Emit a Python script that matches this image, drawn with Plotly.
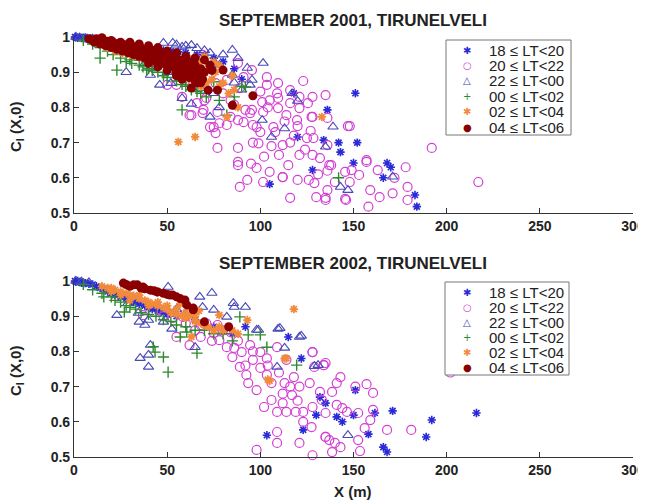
import plotly.graph_objects as go

# ---- data: (X in m, C_I) pairs ----
labels = ["18 ≤ LT<20", "20 ≤ LT<22", "22 ≤ LT<00", "00 ≤ LT<02", "02 ≤ LT<04", "04 ≤ LT<06"]
titles = ["SEPTEMBER 2001, TIRUNELVELI", "SEPTEMBER 2002, TIRUNELVELI"]
x_ticks = [0, 50, 100, 150, 200, 250, 300]
y_ticks = [0.5, 0.6, 0.7, 0.8, 0.9, 1.0]

top_1820 = [(0.5, 1.0), (1, 0.999), (2, 0.998), (3, 0.999), (4, 0.997), (5, 0.998), (6, 0.996),
            (7, 0.997), (8, 0.994), (9, 0.996), (10, 0.993), (12, 0.99), (14, 0.988), (17, 0.985),
            (20, 0.98), (24, 0.978), (28, 0.975), (32, 0.972), (36, 0.97), (40, 0.968), (44, 0.965),
            (48, 0.962), (52, 0.96), (56, 0.958), (60, 0.955), (66, 0.95), (70, 0.948), (75, 0.94),
            (80, 0.93), (86, 0.91), (90, 0.88), (105, 0.582), (118, 0.84), (120, 0.716), (128, 0.622),
            (134, 0.707), (136, 0.793), (142, 0.70), (143, 0.673), (150, 0.642), (151, 0.84),
            (152, 0.70), (166, 0.60), (168, 0.642), (170, 0.63), (183, 0.551), (184, 0.518)]

top_2022 = [(88, 0.926), (123, 0.875), (95.5, 0.906), (103.5, 0.864), (109.5, 0.869), (109, 0.84),
            (116, 0.812), (105, 0.82), (101, 0.815), (95.5, 0.793), (101.5, 0.787), (109.5, 0.798),
            (121, 0.798), (125.5, 0.812), (128, 0.83), (127.5, 0.773), (119.7, 0.764), (114, 0.778),
            (107, 0.744), (98, 0.744), (88, 0.764), (92, 0.793), (86, 0.807), (82, 0.75), (77, 0.787),
            (75, 0.744), (69, 0.784), (66, 0.812), (71, 0.827), (89, 0.855), (91, 0.886), (82, 0.878),
            (76, 0.869), (69, 0.949), (74, 0.912), (66, 0.886), (109.5, 0.827), (116, 0.849),
            (103.5, 0.886), (121, 0.83), (63, 0.778), (69.5, 0.793), (58, 0.83), (50, 0.864),
            (55, 0.864), (70, 0.82), (73, 0.744), (76, 0.727), (77, 0.685), (88, 0.685), (88, 0.645),
            (88, 0.636), (93, 0.594), (89, 0.574), (98, 0.628), (96, 0.70), (99, 0.698), (101.5, 0.588),
            (105, 0.617), (110, 0.665), (112, 0.602), (112, 0.693), (108, 0.73), (100, 0.73), (96, 0.75),
            (91, 0.758), (84, 0.773), (78, 0.755), (62, 0.778), (94.5, 0.784), (147, 0.747),
            (128, 0.773), (120, 0.747), (127, 0.733), (116, 0.70), (125, 0.713), (128.5, 0.713),
            (136, 0.693), (121, 0.665), (128, 0.665), (132, 0.656), (137, 0.636), (115, 0.636),
            (112, 0.602), (120, 0.594), (126, 0.594), (129, 0.585), (136, 0.565), (116, 0.543),
            (130, 0.545), (135, 0.543), (145.5, 0.54), (158, 0.518), (157, 0.65), (163, 0.622),
            (153, 0.608), (148, 0.588), (159, 0.565), (164, 0.545), (171, 0.556), (178, 0.63),
            (179, 0.574), (179, 0.537), (172, 0.60), (135, 0.835), (136, 0.77), (148, 0.747),
            (192, 0.685), (217, 0.588), (157, 0.645), (146, 0.537), (136, 0.62), (138, 0.636),
            (145.5, 0.617), (149, 0.622), (140, 0.588), (135, 0.537), (60, 0.9), (64, 0.87),
            (80, 0.84), (84, 0.82), (100, 0.845), (104, 0.8), (113, 0.76), (118, 0.72), (106, 0.69),
            (102, 0.66), (95, 0.64), (124, 0.68), (131, 0.61)]

top_2200 = [(1, 1.0), (3, 0.998), (6, 0.997), (10, 0.995), (48, 0.983), (53, 0.983), (55, 0.978),
            (58, 0.972), (60, 0.975), (63, 0.977), (66, 0.968), (70, 0.962), (73, 0.955), (78, 0.92),
            (80, 0.95), (85, 0.963), (85, 0.892), (88, 0.94), (93, 0.912), (95.5, 0.878), (94.5, 0.864),
            (101.5, 0.926), (28, 0.90), (41, 0.892), (46, 0.864), (52, 0.869), (58, 0.826), (63, 0.81),
            (68, 0.855), (73, 0.773), (78, 0.80), (101, 0.764), (106, 0.716), (113, 0.74), (117, 0.84),
            (120, 0.818), (135, 0.688), (139, 0.745), (143, 0.574), (147, 0.565), (171, 0.603),
            (35, 0.94), (38, 0.925), (44, 0.915), (50, 0.90), (56, 0.89), (62, 0.87), (70, 0.86),
            (75, 0.84), (90, 0.85), (86, 0.87)]

top_0002 = [(5, 0.99), (10, 0.98), (14, 0.97), (18, 0.96), (21, 0.95), (23, 0.906), (25, 0.94),
            (28, 0.93), (31, 0.925), (35, 0.92), (37, 0.915), (39, 0.906), (42, 0.905), (45, 0.90),
            (48, 0.89), (50, 0.885), (53, 0.906), (55, 0.875), (58, 0.865), (58, 0.793), (60, 0.86),
            (63, 0.85), (66, 0.845), (68, 0.84), (71, 0.83), (75, 0.873), (78, 0.82), (82, 0.778),
            (86, 0.83), (90, 0.86), (92, 0.858), (142, 0.60), (30, 0.935), (40, 0.91), (14, 0.94)]

top_0204 = [(18, 0.97), (22, 0.96), (26, 0.955), (30, 0.95), (33, 0.945), (36, 0.94), (40, 0.935),
            (44, 0.925), (47, 0.92), (50, 0.915), (53, 0.91), (56, 0.90), (59, 0.89), (62, 0.88),
            (65, 0.87), (68, 0.86), (71, 0.87), (74, 0.88), (76, 0.90), (78, 0.86), (80, 0.87),
            (83, 0.84), (86, 0.85), (88, 0.80), (82, 0.773), (56, 0.702), (65, 0.716), (133, 0.773),
            (70, 0.945), (75, 0.93), (72, 0.915), (64, 0.94), (58, 0.925), (52, 0.94), (46, 0.945),
            (38, 0.955), (28, 0.965), (67, 0.93), (78, 0.92), (85, 0.89)]

top_0406 = [(8, 0.995), (10, 0.99), (11, 0.985), (12, 0.995), (13, 0.988), (14, 0.98), (15, 0.992),
            (16, 0.983), (17, 0.975), (18, 0.988), (19, 0.978), (20, 0.97), (21, 0.985), (22, 0.975),
            (23, 0.965), (24, 0.982), (25, 0.97), (26, 0.96), (27, 0.978), (28, 0.968), (29, 0.955),
            (30, 0.975), (31, 0.962), (32, 0.95), (33, 0.972), (34, 0.958), (35, 0.945), (36, 0.968),
            (37, 0.955), (38, 0.94), (39, 0.965), (40, 0.95), (41, 0.935), (42, 0.96), (43, 0.945),
            (44, 0.93), (45, 0.955), (46, 0.94), (47, 0.925), (48, 0.95), (49, 0.935), (50, 0.92),
            (51, 0.945), (52, 0.93), (53, 0.915), (54, 0.94), (55, 0.925), (56, 0.905), (57, 0.935),
            (58, 0.915), (59, 0.895), (60, 0.925), (61, 0.905), (62, 0.885), (63, 0.915), (64, 0.895),
            (65, 0.875), (66, 0.91), (67, 0.89), (68, 0.87), (70, 0.90), (70, 0.935), (72, 0.849),
            (73, 0.92), (74, 0.905), (77, 0.849), (80, 0.906), (85, 0.806), (96, 0.833), (63, 0.855),
            (66, 0.87), (58, 0.88), (55, 0.90), (35, 0.96), (45, 0.945), (25, 0.985), (30, 0.98),
            (40, 0.965), (50, 0.94), (60, 0.91), (62, 0.93), (65, 0.92), (68, 0.91), (69, 0.88),
            (20, 0.99), (15, 0.998), (43, 0.962), (53, 0.935), (47, 0.955), (40, 0.975),
            (45, 0.97), (50, 0.96), (55, 0.955), (60, 0.945), (65, 0.94), (35, 0.98), (30, 0.985),
            (50, 0.905), (55, 0.89), (45, 0.915), (40, 0.925)]

bot_1820 = [(0.5, 1.0), (1, 0.998), (2, 1.0), (3, 0.997), (4, 0.995), (5, 0.996), (6, 0.994),
            (8, 0.992), (10, 0.99), (12, 0.985), (14, 0.98), (16, 0.978), (18, 0.97), (20, 0.965),
            (22, 0.96), (25, 0.955), (28, 0.95), (30, 0.945), (32, 0.94), (35, 0.935), (38, 0.93),
            (40, 0.925), (42, 0.92), (45, 0.915), (48, 0.91), (50, 0.905), (55, 0.90), (60, 0.895),
            (65, 0.89), (70, 0.88), (75, 0.87), (80, 0.86), (85, 0.85), (92, 0.87),
            (151, 0.69), (135, 0.653), (141, 0.614), (144, 0.60), (150, 0.619), (161.5, 0.625),
            (171, 0.631), (192, 0.605), (216, 0.625), (189, 0.557), (158, 0.565), (166, 0.528),
            (168, 0.514), (103.5, 0.562), (123, 0.577), (130, 0.619), (132, 0.67), (122, 0.78),
            (115, 0.841)]

bot_2022 = [(98, 0.52), (109, 0.54), (109, 0.571), (121, 0.54), (128, 0.505), (135, 0.557),
            (102, 0.642), (106, 0.662), (109, 0.628), (114, 0.628), (119, 0.628), (123, 0.628),
            (128, 0.642), (133, 0.662), (112, 0.653), (117, 0.676), (123, 0.60), (127.5, 0.585),
            (106, 0.71), (103.5, 0.733), (113, 0.71), (118, 0.727), (121, 0.70), (126.5, 0.71),
            (129, 0.756), (135, 0.767), (128, 0.798), (93.5, 0.71), (92.5, 0.733), (89, 0.756),
            (96, 0.776), (100, 0.753), (85, 0.784), (90, 0.798), (94.5, 0.818), (100, 0.798),
            (103.5, 0.78), (109, 0.812), (114, 0.776), (82, 0.812), (78, 0.832), (75, 0.852),
            (68, 0.841), (62, 0.818), (55, 0.841), (53, 0.895), (58.5, 0.898), (71, 0.88), (77, 0.875),
            (84, 0.855), (68, 0.875), (37, 0.903), (42.5, 0.912), (134, 0.761), (143, 0.727),
            (141, 0.71), (138.5, 0.685), (132, 0.685), (151, 0.70), (157, 0.707), (160.5, 0.682),
            (141, 0.648), (144, 0.639), (146.5, 0.628), (135, 0.625), (152.5, 0.625), (160.5, 0.634),
            (159, 0.605), (156, 0.582), (168, 0.577), (181, 0.577), (135, 0.557), (137, 0.548),
            (140, 0.54), (143, 0.528), (138.5, 0.514), (152.5, 0.548), (153.5, 0.517), (202, 0.74),
            (128, 0.798), (134, 0.761), (80, 0.86), (88, 0.83), (96, 0.8), (104, 0.76), (110, 0.74),
            (116, 0.70), (120, 0.66), (112, 0.68), (98, 0.69), (92, 0.76), (86, 0.81), (74, 0.83),
            (65, 0.86), (60, 0.88), (48, 0.9)]

bot_2200 = [(23, 0.903), (34.5, 0.909), (35, 0.884), (38, 0.875), (40, 0.889), (29, 0.937),
            (35.5, 0.781), (41, 0.818), (40, 0.79), (40, 0.756), (52.5, 0.864), (48, 0.884),
            (50.5, 0.983), (60.5, 0.912), (58, 0.937), (65, 0.812), (67.5, 0.955), (74, 0.966),
            (82, 0.898), (85.5, 0.937), (92, 0.926), (98, 0.861), (109.5, 0.864), (113, 0.81),
            (109, 0.756), (121, 0.841), (129, 0.758), (110.5, 0.866), (122, 0.844), (131, 0.761),
            (99, 0.861), (86, 0.926), (147, 0.562), (75, 0.918), (69, 0.926), (1, 1.0), (4, 0.998),
            (8, 0.996), (45, 0.93), (55, 0.92)]

bot_0002 = [(16, 0.955), (27, 0.912), (42.5, 0.813), (43.5, 0.798), (48, 0.784), (50.5, 0.741),
            (66, 0.795), (57, 0.841), (60.5, 0.855), (89, 0.898), (93.5, 0.847), (103.5, 0.812),
            (119.5, 0.761), (100, 0.847), (5, 0.99), (10, 0.975), (15, 0.965), (20, 0.955),
            (22, 0.945), (25, 0.94), (28, 0.93), (30, 0.925), (33, 0.92), (36, 0.91), (40, 0.905),
            (44, 0.90), (48, 0.89), (52, 0.885), (55, 0.875), (60, 0.87), (65, 0.86), (70, 0.86),
            (75, 0.85), (80, 0.85), (85, 0.83)]

bot_0204 = [(118, 0.92), (93, 0.889), (113, 0.78), (104, 0.72), (63, 0.841), (105, 0.716),
            (114, 0.78), (78, 0.903), (15, 0.985), (18, 0.98), (20, 0.98), (22, 0.975), (25, 0.97),
            (28, 0.965), (30, 0.96), (32, 0.958), (35, 0.95), (38, 0.945), (40, 0.94), (42, 0.935),
            (45, 0.93), (48, 0.925), (50, 0.92), (52, 0.91), (55, 0.905), (58, 0.90), (60, 0.895),
            (62, 0.90), (65, 0.885), (68, 0.88), (70, 0.875), (72, 0.87), (75, 0.86), (78, 0.87),
            (80, 0.86), (85, 0.86), (88, 0.85), (30, 0.945), (40, 0.93), (50, 0.93), (55, 0.92),
            (60, 0.91), (65, 0.90), (45, 0.94), (35, 0.96), (25, 0.96), (20, 0.97), (57, 0.935),
            (62, 0.925), (67, 0.915)]

bot_0406 = [(26.5, 0.994), (34, 0.989), (41, 0.974), (45, 0.969), (51.5, 0.96), (59.5, 0.946),
            (64, 0.923), (32, 0.989), (44.5, 0.969), (53, 0.96), (64, 0.918), (60.5, 0.932),
            (70, 0.884), (83, 0.87), (37, 0.983), (28, 0.99), (30, 0.985), (36, 0.98), (38, 0.978),
            (43, 0.972), (48, 0.965), (50, 0.962), (55, 0.955), (57, 0.95)]

panels = [
    [top_1820, top_2022, top_2200, top_0002, top_0204, top_0406],
    [bot_1820, bot_2022, bot_2200, bot_0002, bot_0204, bot_0406],
]

colors = ["#2a2ad8", "#d23fd2", "#4848b8", "#2e8a2e", "#f28a3c", "#8a0000"]
styles = [
    dict(symbol="asterisk-open", size=7, line=dict(width=1.6)),
    dict(symbol="circle-open", size=9, line=dict(width=1.2)),
    dict(symbol="triangle-up-open", size=9, line=dict(width=1.1)),
    dict(symbol="cross-thin-open", size=8, line=dict(width=1.4)),
    dict(symbol="asterisk-open", size=7, line=dict(width=1.8)),
    dict(symbol="circle", size=9, line=dict(width=0)),
]
# legend keys drawn as glyphs (plotly's own legend can't be packed this tightly)
key_glyphs = ["✱", "○", "△", "+", "✱", "●"]

FONT = "Liberation Sans, Arial, sans-serif"

# the page body adds an 8px margin, so the figure is 8px smaller and offset
W, H, OFF = 638, 494, 8


def px(x):
    return (x - OFF) / W


def py(y):
    return 1 - (y - OFF) / H


x_dom = [px(74), px(633)]
y_doms = [[py(213), py(37)], [py(457), py(281)]]

fig = go.Figure()
for p, series in enumerate(panels):
    ax = "" if p == 0 else "2"
    for lab, pts, st, col in zip(labels, series, styles, colors):
        marker = dict(st, color=col)
        marker["line"] = dict(st["line"], color=col)
        fig.add_trace(go.Scatter(
            x=[a for a, b in pts], y=[b for a, b in pts],
            mode="markers", name=lab, marker=marker, cliponaxis=False,
            xaxis="x" + ax, yaxis="y" + ax, showlegend=False,
        ))

axis_common = dict(
    showline=True, linecolor="#333", linewidth=1.2, ticks="inside", automargin=False,
    ticklen=5, tickcolor="#333", showgrid=False, zeroline=False, mirror=False,
    tickfont=dict(family=FONT, size=14, color="#222", weight="bold"),
)
for p in range(2):
    ax = "" if p == 0 else "2"
    fig.update_layout({
        "xaxis" + ax: dict(axis_common, domain=x_dom, range=[0, 300], tickvals=x_ticks,
                           anchor="y" + ax),
        "yaxis" + ax: dict(axis_common, domain=y_doms[p], range=[0.5, 1.0], tickvals=y_ticks,
                           ticktext=["0.5", "0.6", "0.7", "0.8", "0.9", "1"], anchor="x" + ax),
    })

annotations = []
shapes = []
legend_boxes = [(446, 40, 571, 135, 50, 15.4), (445, 282, 569, 375, 292, 15.0)]
for p in range(2):
    top_px = 37 if p == 0 else 281
    title_y = 20 if p == 0 else 263
    annotations.append(dict(text="<b>" + titles[p] + "</b>", x=px(353), y=py(title_y),
                            xref="paper", yref="paper", showarrow=False, yanchor="middle",
                            font=dict(family=FONT, size=17, color="#222")))
    annotations.append(dict(text="<b>C<sub>I</sub> (X,0)</b>", x=px(16),
                            y=py(top_px + 90), xref="paper", yref="paper",
                            showarrow=False, textangle=-90, xanchor="center",
                            yanchor="middle",
                            font=dict(family=FONT, size=15, color="#222")))
    x0, y0, x1, y1, row0, step = legend_boxes[p]
    shapes.append(dict(type="rect", xref="paper", yref="paper", x0=px(x0), x1=px(x1),
                       y0=py(y1), y1=py(y0), line=dict(color="#777", width=1),
                       fillcolor="white", layer="above"))
    for i, (lab, g, col) in enumerate(zip(labels, key_glyphs, colors)):
        ry = row0 + step * i
        annotations.append(dict(text=g, x=px(467), y=py(ry), xref="paper",
                                yref="paper", showarrow=False, xanchor="center",
                                yanchor="middle",
                                font=dict(family="DejaVu Sans", size=10, color=col)))
        annotations.append(dict(text=lab, x=px(487), y=py(ry), xref="paper",
                                yref="paper", showarrow=False, xanchor="left",
                                yanchor="middle",
                                font=dict(family=FONT, size=15, color="#222")))
annotations.append(dict(text="<b>X (m)</b>", x=px(353), y=py(491), xref="paper",
                        yref="paper", showarrow=False, yanchor="middle",
                        font=dict(family=FONT, size=15, color="#222")))

fig.update_layout(
    width=W, height=H, margin=dict(l=0, r=0, t=0, b=0, autoexpand=False),
    paper_bgcolor="white", plot_bgcolor="white",
    annotations=annotations, shapes=shapes,
)

fig.write_html("out.html")
